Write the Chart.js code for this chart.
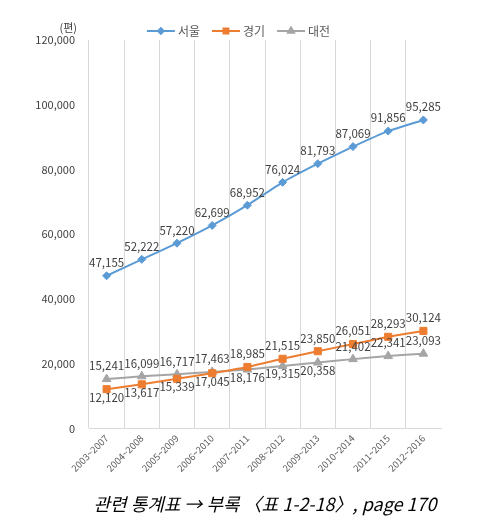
<!DOCTYPE html>
<html>
<head>
<meta charset="utf-8">
<script src="https://cdn.jsdelivr.net/npm/chart.js@4.4.1/dist/chart.umd.min.js"></script>
<style>
  body { margin: 0; background: #fff; }
</style>
</head>
<body>
<canvas id="chart" width="477" height="524"></canvas>
<script>
const periods = ['2003~2007', '2004~2008', '2005~2009', '2006~2010', '2007~2011',
  '2008~2012', '2009~2013', '2010~2014', '2011~2015', '2012~2016'];
const seoul = [47155, 52222, 57220, 62699, 68952, 76024, 81793, 87069, 91856, 95285];
const gyeonggi = [12120, 13617, 15339, 17045, 18985, 21515, 23850, 26051, 28293, 30124];
const daejeon = [15241, 16099, 16717, 17463, 18176, 19315, 20358, 21402, 22341, 23093];
const unitLabel = '(편)';
const caption = '관련 통계표 → 부록 〈표 1-2-18〉, page 170';

// where each value label sits: 1 = above the point, -1 = below
const seoulLabelPos = [1, 1, 1, 1, 1, 1, 1, 1, 1, 1];
const gyeonggiLabelPos = [-1, -1, -1, -1, 1, 1, 1, 1, 1, 1];
const daejeonLabelPos = [1, 1, 1, 1, -1, -1, -1, 1, 1, 1];

const font = '"Noto Sans CJK KR", "Noto Sans", sans-serif';

const valueLabels = {
  id: 'valueLabels',
  afterDatasetsDraw(chart) {
    const ctx = chart.ctx;
    ctx.save();
    ctx.font = '11.5px ' + font;
    ctx.fillStyle = '#404040';
    ctx.textAlign = 'center';
    ctx.textBaseline = 'middle';
    chart.data.datasets.forEach((ds, i) => {
      chart.getDatasetMeta(i).data.forEach((pt, j) => {
        const dy = ds.labelPos[j] > 0 ? -13 : 8;
        ctx.fillText(ds.data[j].toLocaleString('en-US'), pt.x, pt.y + dy);
      });
    });
    ctx.restore();
  }
};

// legend drawn as line + marker like the original, plus the unit label
const lineLegend = {
  id: 'lineLegend',
  afterDraw(chart) {
    const ctx = chart.ctx;
    const sets = chart.data.datasets;
    ctx.save();
    ctx.font = '12px ' + font;
    ctx.textBaseline = 'middle';
    const lineLen = 28, gap = 3, itemGap = 12;
    const widths = sets.map(ds => lineLen + gap + ctx.measureText(ds.label).width);
    const total = widths.reduce((a, b) => a + b, 0) + itemGap * (sets.length - 1);
    let x = (chart.width - total) / 2;
    const y = 31;
    sets.forEach((ds, i) => {
      ctx.strokeStyle = ds.borderColor;
      ctx.lineWidth = 2;
      ctx.beginPath();
      ctx.moveTo(x, y);
      ctx.lineTo(x + lineLen, y);
      ctx.stroke();
      ctx.fillStyle = ds.borderColor;
      Chart.helpers.drawPoint(ctx, { pointStyle: ds.pointStyle, radius: ds.pointRadius * 0.7, borderWidth: 1 }, x + lineLen / 2, y);
      ctx.fillStyle = '#595959';
      ctx.textAlign = 'left';
      ctx.fillText(ds.label, x + lineLen + gap, y);
      x += widths[i] + itemGap;
    });
    ctx.font = '11px ' + font;
    ctx.textAlign = 'right';
    ctx.fillStyle = '#404040';
    ctx.fillText(unitLabel, chart.scales.y.right - 12, 28);
    ctx.restore();
  }
};

function series(label, data, color, style, radius, pos) {
  return {
    label: label,
    data: data,
    borderColor: color,
    backgroundColor: color,
    borderWidth: 2,
    pointStyle: style,
    pointRadius: radius,
    pointHoverRadius: radius,
    pointBorderWidth: 1,
    tension: 0.15,
    labelPos: pos
  };
}

new Chart(document.getElementById('chart'), {
  type: 'line',
  data: {
    labels: periods,
    datasets: [
      series('서울', seoul, '#5B9BD5', 'rectRot', 4, seoulLabelPos),
      series('경기', gyeonggi, '#ED7D31', 'rect', 5, gyeonggiLabelPos),
      series('대전', daejeon, '#A5A5A5', 'triangle', 5, daejeonLabelPos)
    ]
  },
  options: {
    responsive: false,
    animation: false,
    layout: { padding: { top: 40, left: 0, right: 36, bottom: 9 } },
    plugins: {
      legend: { display: false },
      tooltip: { enabled: false },
      title: {
        display: true,
        position: 'bottom',
        fullSize: false,
        text: caption,
        color: '#000',
        font: { family: font, size: 18, style: 'italic', weight: 'normal', lineHeight: 1.2 },
        padding: { top: 15, bottom: 0 }
      }
    },
    scales: {
      x: {
        offset: true,
        grid: {
          offset: true,
          drawTicks: false,
          color: c => (c.tick ? '#D9D9D9' : 'transparent')
        },
        border: { color: '#D9D9D9' },
        ticks: {
          autoSkip: false,
          minRotation: 45,
          maxRotation: 45,
          padding: 4,
          color: '#595959',
          font: { family: font, size: 9.5 }
        },
        afterFit: s => { s.height = 50; }
      },
      y: {
        min: 0,
        max: 120000,
        grid: { display: false, drawTicks: false },
        border: { display: false },
        ticks: {
          stepSize: 20000,
          padding: 14,
          color: '#404040',
          font: { family: font, size: 11 },
          callback: v => v.toLocaleString('en-US')
        },
        afterFit: s => { s.width = 89; }
      }
    }
  },
  plugins: [valueLabels, lineLegend]
});
</script>
</body>
</html>
